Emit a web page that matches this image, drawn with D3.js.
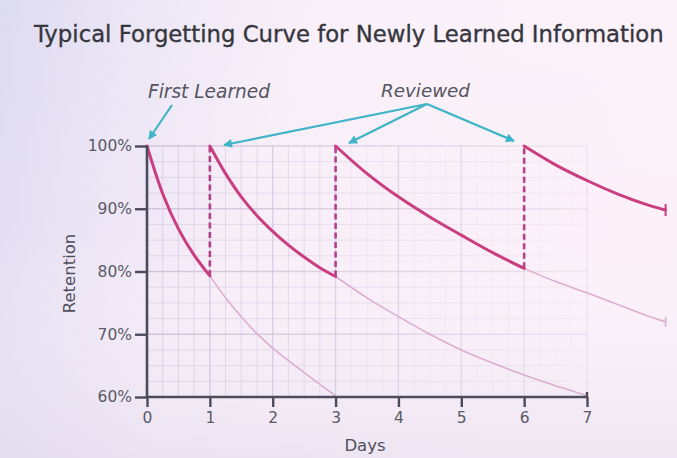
<!DOCTYPE html>
<html>
<head>
<meta charset="utf-8">
<script src="https://cdn.jsdelivr.net/npm/d3@7"></script>
<style>
  html, body { margin: 0; padding: 0; background: #f4eef8; }
  svg { display: block; }
  text { font-family: "DejaVu Sans", Verdana, sans-serif; }
</style>
</head>
<body>
<svg id="chart" width="677" height="458"></svg>
<script>
// ---------------- data ----------------
const title = "Typical Forgetting Curve for Newly Learned Information";
const xTicks = [0, 1, 2, 3, 4, 5, 6, 7];
const yTicks = [60, 70, 80, 90, 100];
const xLabel = "Days";
const yLabel = "Retention";

// bold (retained) segments: [day, retention %]
const seg1 = [[0,100],[0.25,92.4],[0.5,86.8],[0.75,82.6],[1,79.3]];
const seg2 = [[1,100],[1.25,95.6],[1.5,91.9],[1.75,88.9],[2,86.4],[2.25,84.2],[2.5,82.3],[2.75,80.6],[3,79.2]];
const seg3 = [[3,100],[3.5,95.6],[4,91.9],[4.5,88.7],[5,85.8],[5.5,83.0],[6,80.5]];
const seg4 = [[6,100],[6.5,97.0],[7,94.5],[7.5,92.3],[8,90.5],[8.25,89.8]];
// faint continuations (what happens without review)
const fade1 = [[1,79.3],[1.25,75.8],[1.5,72.8],[1.75,70.1],[2,67.8],[2.5,63.9],[3,60.2]];
const fade2 = [[3,79.2],[3.5,75.8],[4,72.8],[4.5,70.0],[5,67.5],[5.5,65.4],[6,63.5],[6.5,61.8],[7,60.2]];
const fade3 = [[6,80.5],[6.5,78.4],[7,76.6],[7.5,74.7],[8,72.8],[8.25,72.0]];
// review days: [day, retention before review]
const reviews = [[1,79.3],[3,79.2],[6,80.5]];

// ---------------- drawing ----------------
const svg = d3.select("#chart");
const W = 677, H = 458;
const defs = svg.append("defs");

const bg = defs.append("linearGradient").attr("id","bg").attr("x1","0").attr("x2","1").attr("y1","0").attr("y2","0.25");
bg.append("stop").attr("offset","0%").attr("stop-color","#d8d5ee");
bg.append("stop").attr("offset","18%").attr("stop-color","#e8e2f4");
bg.append("stop").attr("offset","45%").attr("stop-color","#f8eef8");
bg.append("stop").attr("offset","100%").attr("stop-color","#fcf1f9");
svg.append("rect").attr("width",W).attr("height",H).attr("fill","url(#bg)");
const vg = defs.append("linearGradient").attr("id","vg").attr("x1","0").attr("x2","0").attr("y1","0").attr("y2","1");
vg.append("stop").attr("offset","0%").attr("stop-color","#ffffff").attr("stop-opacity",0.15);
vg.append("stop").attr("offset","50%").attr("stop-color","#ffffff").attr("stop-opacity",0);
vg.append("stop").attr("offset","100%").attr("stop-color","#c9c4e0").attr("stop-opacity",0.25);
svg.append("rect").attr("width",W).attr("height",H).attr("fill","url(#vg)");

const x = d3.scaleLinear().domain([0, 7]).range([147, 587]);
const y = d3.scaleLinear().domain([60, 100]).range([397, 146]);

// grid (fades toward the right)
const gridFade = d3.scaleLinear().domain([0, 3, 7]).range([1, 0.75, 0.35]);
const g = svg.append("g");
const minorX = d3.range(0, 7.01, 0.25);
const minorY = d3.range(60, 100.01, 2.5);
const hg = defs.append("linearGradient").attr("id","hg").attr("gradientUnits","userSpaceOnUse")
  .attr("x1", x(0)).attr("x2", x(7)).attr("y1",0).attr("y2",0);
hg.append("stop").attr("offset","0%").attr("stop-color","#cbbdd8").attr("stop-opacity",1);
hg.append("stop").attr("offset","45%").attr("stop-color","#cbbdd8").attr("stop-opacity",0.7);
hg.append("stop").attr("offset","100%").attr("stop-color","#cbbdd8").attr("stop-opacity",0.3);
g.selectAll("line.vmin").data(minorX).join("line")
  .attr("x1", d => x(d)).attr("x2", d => x(d)).attr("y1", y(60)).attr("y2", y(100))
  .attr("stroke", "#cdbfda")
  .attr("stroke-width", d => Number.isInteger(d) ? 1.3 : 0.9)
  .attr("stroke-opacity", d => (Number.isInteger(d) ? 0.85 : 0.6) * gridFade(d) * (d > 3 && !Number.isInteger(d) ? 0.4 : 1));
g.selectAll("line.hmin").data(minorY).join("line")
  .attr("x1", x(0)).attr("x2", x(7)).attr("y1", d => y(d)).attr("y2", d => y(d))
  .attr("stroke", "url(#hg)")
  .attr("stroke-width", d => d % 10 === 0 ? 1.3 : 0.9)
  .attr("stroke-opacity", d => d % 10 === 0 ? 0.85 : 0.55);

// curves
const line = d3.line().x(d => x(d[0])).y(d => y(d[1])).curve(d3.curveCatmullRom.alpha(0.5));
const faint = svg.append("g");
[fade1, fade2, fade3].forEach(s => {
  faint.append("path").attr("d", line(s)).attr("fill","none")
    .attr("stroke","#dcaed0").attr("stroke-width",1.6);
});
// end serif for faint line 3
const f3e = fade3[fade3.length-1];
faint.append("line").attr("x1", x(f3e[0])).attr("x2", x(f3e[0]))
  .attr("y1", y(f3e[1]) - 5).attr("y2", y(f3e[1]) + 5)
  .attr("stroke","#dcaed0").attr("stroke-width",1.6);

// dashed review lines
svg.append("g").selectAll("line").data(reviews).join("line")
  .attr("x1", d => x(d[0])).attr("x2", d => x(d[0]))
  .attr("y1", d => y(d[1])).attr("y2", y(100))
  .attr("stroke","#b4408a").attr("stroke-width",2.6)
  .attr("stroke-dasharray","6,3.5");

const bold = svg.append("g");
[seg1, seg2, seg3, seg4].forEach(s => {
  bold.append("path").attr("d", line(s)).attr("fill","none")
    .attr("stroke","#ca3e80").attr("stroke-width",3).attr("stroke-linecap","round");
});
const s4e = seg4[seg4.length-1];
bold.append("line").attr("x1", x(s4e[0])).attr("x2", x(s4e[0]))
  .attr("y1", y(s4e[1]) - 6).attr("y2", y(s4e[1]) + 6)
  .attr("stroke","#ca3e80").attr("stroke-width",2);

// axes
const axisColor = "#4b4b5c";
const yAxis = svg.append("g").attr("transform", `translate(${x(0)},0)`)
  .call(d3.axisLeft(y).tickValues(yTicks).tickFormat(d => d + "%").tickSize(12).tickPadding(3));
const xAxis = svg.append("g").attr("transform", `translate(0,${y(60)})`)
  .call(d3.axisBottom(x).tickValues(xTicks).tickFormat(d3.format("d")).tickSize(10).tickPadding(5));
[yAxis, xAxis].forEach(a => {
  a.select(".domain").attr("stroke", axisColor).attr("stroke-width", 2.6);
  a.selectAll(".tick line").attr("stroke", axisColor).attr("stroke-width", 2.4);
  a.selectAll(".tick text").attr("fill", "#5a5a66").attr("font-size", 15.5)
    .attr("font-family", "'DejaVu Sans', Verdana, sans-serif");
});
yAxis.select(".domain").attr("d", `M0,${y(60)}V${y(100)}`);
xAxis.select(".domain").attr("d", `M${x(0)},0H${x(7)}`);
// small tick above axis at day 7
xAxis.append("line").attr("x1", x(7)).attr("x2", x(7)).attr("y1", -5).attr("y2", 0)
  .attr("stroke", axisColor).attr("stroke-width", 2.4);

// axis titles
svg.append("text").attr("x", (x(0)+x(7))/2 - 2).attr("y", 451).attr("text-anchor","middle")
  .attr("font-size", 16.5).attr("fill", "#4f4f5c").text(xLabel);
svg.append("text").attr("transform", `translate(75,${(y(60)+y(100))/2 + 2}) rotate(-90)`)
  .attr("text-anchor","middle").attr("font-size", 16.5).attr("fill", "#4f4f5c").text(yLabel);

// title
const t = svg.append("text").attr("x", 34).attr("y", 42).attr("font-size", 21)
  .attr("fill", "#36363e").attr("stroke", "#36363e").attr("stroke-width", 0.35).text(title);
const tw = t.node().getComputedTextLength();
t.attr("font-size", 21 * 630 / tw);

// annotations
const fl = svg.append("text").attr("x", 148).attr("y", 98).attr("font-size", 18).attr("font-style","italic")
  .attr("fill", "#55555f").text("First Learned");
fl.attr("font-size", 18 * 122 / fl.node().getComputedTextLength());
const rv = svg.append("text").attr("x", 381).attr("y", 97).attr("font-size", 18).attr("font-style","italic")
  .attr("fill", "#55555f").text("Reviewed");
rv.attr("font-size", 18 * 89 / rv.node().getComputedTextLength());

const arrowColor = "#3fb4c6";
defs.append("marker").attr("id","ah").attr("viewBox","0 0 10 10").attr("refX",9).attr("refY",5)
  .attr("markerWidth",5.5).attr("markerHeight",4).attr("orient","auto-start-reverse")
  .attr("markerUnits","strokeWidth")
  .append("path").attr("d","M0,0L10,5L0,10z").attr("fill", arrowColor);
const arrows = [
  [[172,105],[149,139]],
  [[427,104],[224,145]],
  [[427,104],[349,143]],
  [[427,104],[514,141]]
];
svg.append("g").selectAll("line").data(arrows).join("line")
  .attr("x1", d => d[0][0]).attr("y1", d => d[0][1])
  .attr("x2", d => d[1][0]).attr("y2", d => d[1][1])
  .attr("stroke", arrowColor).attr("stroke-width", 2.2)
  .attr("marker-end","url(#ah)");
</script>
</body>
</html>
